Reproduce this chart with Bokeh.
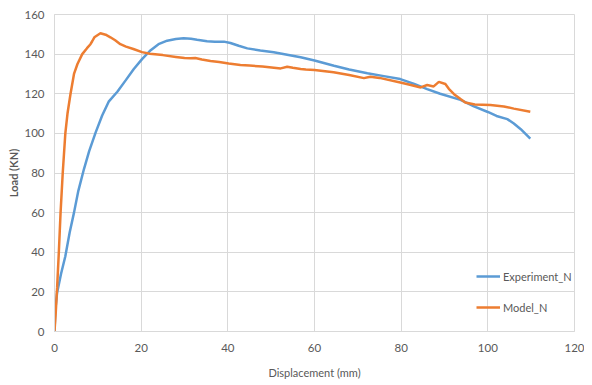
from bokeh.plotting import figure
from bokeh.models import Range1d, Legend, LegendItem, FixedTicker
from bokeh.embed import file_html
from bokeh.resources import INLINE

exp_x = [0, 0.2, 0.6, 1.5, 2.5, 3.5, 4.5, 5.5, 6.8, 8, 9.5, 11, 12.5, 14.5, 16.5, 18.3, 20.2, 22.2,
         24, 26, 28, 29.8, 31.5, 32.9, 35.2, 37, 39.1, 40.6, 42.5, 44.5, 47.5, 50.6, 54, 56.8, 60,
         64.5, 68, 72.2, 76, 79.8, 83, 86, 89, 93.7, 96.8, 100, 102, 104.5, 106, 107.6, 109.8]
exp_y = [0, 11, 19.6, 29, 38, 50, 60, 71, 82, 91, 100.5, 109, 116, 121, 127, 132.5, 137.5, 142,
         145, 146.8, 147.6, 148, 147.8, 147.3, 146.5, 146.3, 146.3, 145.6, 144.2, 142.9, 141.8, 140.9,
         139.6, 138.4, 136.8, 134.1, 132.2, 130.3, 128.9, 127.4, 125, 122.3, 120, 116.9, 113.6, 110.8,
         108.8, 107.2, 105, 102.1, 97.4]

model_x = [0, 0.3, 0.6, 1.0, 1.4, 1.9, 2.5, 3.0, 3.7, 4.5, 5.3, 6.4, 7.5, 8.3, 8.7, 9.2, 10.6, 11.8,
           12.9, 14, 15.2, 16.5, 18.2, 20.2, 22, 25, 28, 30, 31.4, 32.5, 34, 36, 38, 40.2, 42.9, 45,
           48, 52.2, 53.7, 55, 56.8, 58, 60, 64.4, 68, 71.4, 72.9, 75, 79.8, 82, 84.5, 86, 87.5, 88.7,
           90.2, 91, 92.2, 93.7, 94.8, 97, 100.6, 103.7, 106, 109.8]
model_y = [0, 10, 22, 40, 60, 80, 100, 110, 120, 130, 135, 140, 143, 145, 146.5, 148.5, 150.5, 149.8,
           148.5, 147, 145, 143.8, 142.6, 141, 140.2, 139.5, 138.6, 138, 137.9, 138, 137.3, 136.5, 136,
           135.3, 134.5, 134.2, 133.7, 132.8, 133.6, 133.1, 132.5, 132.2, 132, 130.8, 129.5, 127.9,
           128.6, 128, 125.7, 124.5, 123.2, 124.4, 123.7, 126, 124.9, 122.5, 119.8, 117.3, 115.6,
           114.6, 114.3, 113.6, 112.5, 110.9]

x_ticks = [0, 20, 40, 60, 80, 100, 120]
y_ticks = [0, 20, 40, 60, 80, 100, 120, 140, 160]

FONT = "Lato"
TXT = "#595959"
GRID = "#d9d9d9"

p = figure(frame_width=520, frame_height=317, output_backend="svg", toolbar_location=None,
           x_range=Range1d(0, 120), y_range=Range1d(0, 160),
           min_border_left=54, min_border_right=10, min_border_top=14, min_border_bottom=40)

p.outline_line_color = GRID
p.outline_line_width = 1
for ax in (p.xaxis[0], p.yaxis[0]):
    ax.axis_line_color = GRID
    ax.major_tick_line_color = None
    ax.minor_tick_line_color = None
    ax.major_tick_out = 0
    ax.major_tick_in = 0
    ax.minor_tick_out = 0
    ax.major_label_text_font = FONT
    ax.major_label_text_font_size = "11.5px"
    ax.major_label_text_color = TXT
    ax.axis_label_text_font = FONT
    ax.axis_label_text_color = TXT
p.xaxis.ticker = FixedTicker(ticks=x_ticks)
p.yaxis.ticker = FixedTicker(ticks=y_ticks)
p.xaxis.major_label_standoff = 12
p.yaxis.major_label_standoff = 10
p.xaxis.axis_label = "Displacement (mm)"
p.xaxis.axis_label_text_font_style = "normal"
p.xaxis.axis_label_text_font_size = "11px"
p.xaxis.axis_label_standoff = 11
p.yaxis.axis_label = "Load (KN)"
p.yaxis.axis_label_text_font_style = "bold"
p.yaxis.axis_label_text_font_size = "11px"
p.yaxis.axis_label_standoff = 1

p.xgrid.grid_line_color = GRID
p.ygrid.grid_line_color = GRID
p.xgrid.ticker = FixedTicker(ticks=x_ticks)
p.ygrid.ticker = FixedTicker(ticks=y_ticks)

r1 = p.line(exp_x, exp_y, line_color="#5B9BD5", line_width=2.5)
r2 = p.line(model_x, model_y, line_color="#ED7D31", line_width=2.5)

legend = Legend(items=[LegendItem(label="Experiment_N", renderers=[r1]),
                       LegendItem(label="Model_N", renderers=[r2])],
                location=(422, 14), padding=0, margin=0, spacing=11,
                glyph_width=24, glyph_height=20, label_height=20, label_standoff=3,
                label_text_font=FONT, label_text_font_size="11px", label_text_color=TXT,
                background_fill_alpha=0, border_line_alpha=0)
p.add_layout(legend)

open("out.html", "w").write(file_html(p, INLINE))
